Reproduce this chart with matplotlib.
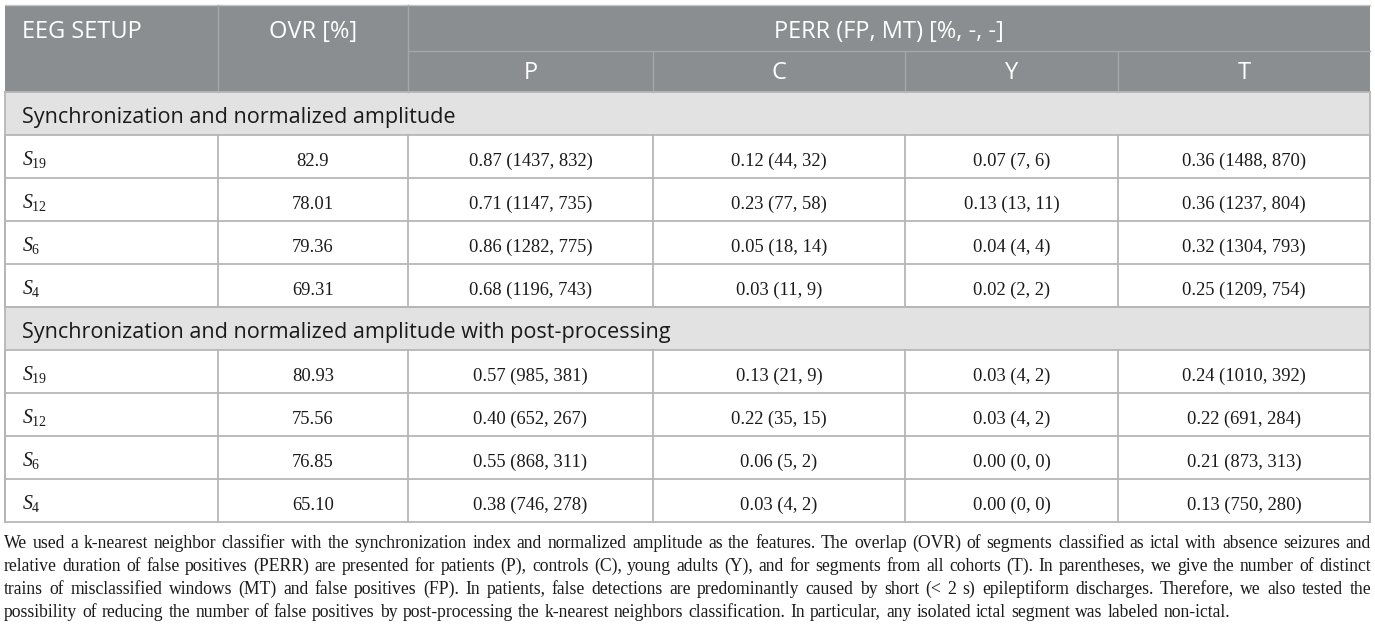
import matplotlib
matplotlib.use("Agg")
import matplotlib.pyplot as plt
from matplotlib.patches import Rectangle

plt.rcParams["mathtext.fontset"] = "custom"
plt.rcParams["mathtext.rm"] = "Liberation Serif"
plt.rcParams["mathtext.it"] = "Liberation Serif:italic"

# ---- data ----
setups = ["19", "12", "6", "4"]
groups = ["P", "C", "Y", "T"]
sections = ["Synchronization and normalized amplitude",
            "Synchronization and normalized amplitude with post-processing"]

ovr_a = ["82.9", "78.01", "79.36", "69.31"]
perr_a = [[0.87, 0.12, 0.07, 0.36],
          [0.71, 0.23, 0.13, 0.36],
          [0.86, 0.05, 0.04, 0.32],
          [0.68, 0.03, 0.02, 0.25]]
fp_a = [[1437, 44, 7, 1488],
        [1147, 77, 13, 1237],
        [1282, 18, 4, 1304],
        [1196, 11, 2, 1209]]
mt_a = [[832, 32, 6, 870],
        [735, 58, 11, 804],
        [775, 14, 4, 793],
        [743, 9, 2, 754]]

ovr_b = ["80.93", "75.56", "76.85", "65.10"]
perr_b = [[0.57, 0.13, 0.03, 0.24],
          [0.40, 0.22, 0.03, 0.22],
          [0.55, 0.06, 0.00, 0.21],
          [0.38, 0.03, 0.00, 0.13]]
fp_b = [[985, 21, 4, 1010],
        [652, 35, 4, 691],
        [868, 5, 0, 873],
        [746, 4, 0, 750]]
mt_b = [[381, 9, 2, 392],
        [267, 15, 2, 284],
        [311, 2, 0, 313],
        [278, 2, 0, 280]]

caption = [
    "We used a k-nearest neighbor classifier with the synchronization index and normalized amplitude as the features. The overlap (OVR) of segments classified as ictal with absence seizures and",
    "relative duration of false positives (PERR) are presented for patients (P), controls (C), young adults (Y), and for segments from all cohorts (T). In parentheses, we give the number of distinct",
    "trains of misclassified windows (MT) and false positives (FP). In patients, false detections are predominantly caused by short (< 2 s) epileptiform discharges. Therefore, we also tested the",
    "possibility of reducing the number of false positives by post-processing the k-nearest neighbors classification. In particular, any isolated ictal segment was labeled non-ictal.",
]

# ---- layout (pixels) ----
W, H = 1375, 630
cols = [5, 218, 408, 653, 905, 1118, 1370]
top, head_mid, head_bot = 5, 51, 92
row_h = 43
head_bg = "#8a8e90"
head_line = "#a4a7a9"
sec_bg = "#e1e2e1"
grid = "#b5b7b6"
ink = "#1a1a1a"
sans = "Open Sans"
serif = "Liberation Serif"
hsize = 17
ssize = 15.6
dsize = 13.3
csize = 12.7

fig = plt.figure(figsize=(W / 100, H / 100), dpi=100)
ax = fig.add_axes([0, 0, 1, 1])
ax.set_xlim(0, W)
ax.set_ylim(H, 0)
ax.axis("off")

# header
ax.add_patch(Rectangle((cols[0], top), cols[-1] - cols[0], head_bot - top,
                       facecolor=head_bg, edgecolor="none"))
ax.plot([cols[0], cols[-1]], [top, top], color="#c4c6c5", lw=1)
for x in cols[1:3]:
    ax.plot([x, x], [top, head_bot], color=head_line, lw=1)
for x in cols[3:-1]:
    ax.plot([x, x], [head_mid, head_bot], color=head_line, lw=1)
ax.plot([cols[2], cols[-1]], [head_mid, head_mid], color=head_line, lw=1)

hb1 = top + 33
hb2 = head_mid + 28
ax.text(22, hb1, "EEG SETUP", color="white", fontsize=hsize, family=sans,
        va="baseline", ha="left")
ax.text((cols[1] + cols[2]) / 2, hb1, "OVR [%]", color="white", fontsize=hsize,
        family=sans, va="baseline", ha="center")
ax.text((cols[2] + cols[-1]) / 2, hb1, "PERR (FP, MT) [%, -, -]", color="white",
        fontsize=hsize, family=sans, va="baseline", ha="center")
for i, g in enumerate(groups):
    ax.text((cols[2 + i] + cols[3 + i]) / 2, hb2, g,
            color="white", fontsize=hsize, family=sans, va="baseline", ha="center")

y = head_bot
blocks = [(ovr_a, perr_a, fp_a, mt_a), (ovr_b, perr_b, fp_b, mt_b)]
for sec, (ovr, perr, fp, mt) in zip(sections, blocks):
    ax.add_patch(Rectangle((cols[0], y), cols[-1] - cols[0], row_h,
                           facecolor=sec_bg, edgecolor="none"))
    ax.text(22, y + 31, sec, fontsize=ssize, family=sans, color=ink,
            va="baseline", ha="left")
    ax.plot([cols[0], cols[-1]], [y, y], color=grid, lw=1.3)
    y += row_h
    for r in range(len(setups)):
        ax.plot([cols[0], cols[-1]], [y, y], color=grid, lw=1.3)
        for x in cols:
            ax.plot([x, x], [y, y + row_h], color=grid, lw=1.3)
        yb = y + 31
        ax.text(22, yb - 1, r"$\mathit{S}_{\mathrm{%s}}$" % setups[r],
                fontsize=dsize + 1, va="baseline", ha="left", color=ink)
        ax.text((cols[1] + cols[2]) / 2, yb, ovr[r], fontsize=dsize, family=serif,
                va="baseline", ha="center", color=ink)
        for c in range(len(groups)):
            s = f"{perr[r][c]:.2f} ({fp[r][c]}, {mt[r][c]})"
            ax.text((cols[2 + c] + cols[3 + c]) / 2, yb, s, fontsize=dsize,
                    family=serif, va="baseline", ha="center", color=ink)
        y += row_h
    ax.plot([cols[0], cols[-1]], [y, y], color=grid, lw=1.3)
ax.plot([cols[0], cols[0]], [head_bot, y], color=grid, lw=1.3)
ax.plot([cols[-1], cols[-1]], [head_bot, y], color=grid, lw=1.3)

# justified caption, last line left-aligned
renderer = fig.canvas.get_renderer()
left, right = 4, 1371
base = 547.5
sp = ax.text(0, 0, "a a", fontsize=csize, family=serif)
aa = ax.text(0, 0, "aa", fontsize=csize, family=serif)
space = sp.get_window_extent(renderer).width - aa.get_window_extent(renderer).width
sp.remove()
aa.remove()
for i, line in enumerate(caption):
    words = line.split(" ")
    objs = [ax.text(0, base + i * 23.2, w, fontsize=csize, family=serif,
                    color=ink, va="baseline", ha="left") for w in words]
    widths = [o.get_window_extent(renderer).width for o in objs]
    if i < len(caption) - 1:
        gap = (right - left - sum(widths)) / (len(words) - 1)
    else:
        gap = space * 1.15
    x = left
    for o, w in zip(objs, widths):
        o.set_x(x)
        x += w + gap

fig.savefig("out.png", dpi=100)
